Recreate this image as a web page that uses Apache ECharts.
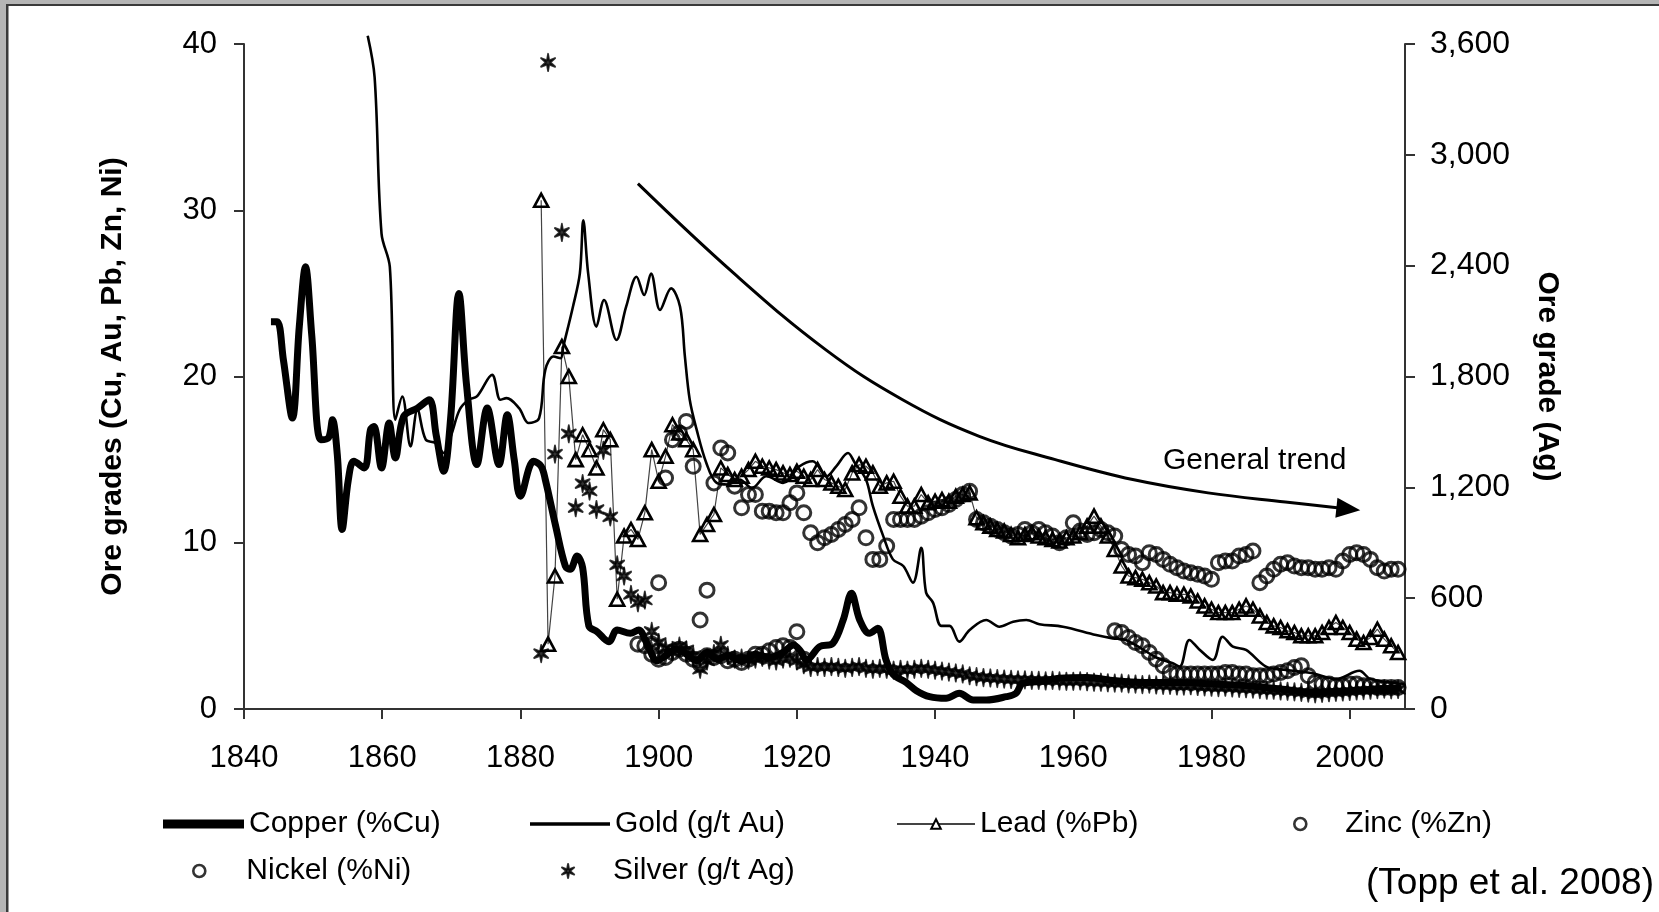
<!DOCTYPE html>
<html>
<head>
<meta charset="utf-8">
<title>Ore grades</title>
<script src="https://cdn.jsdelivr.net/npm/echarts@6/dist/echarts.min.js"></script>
<style>
  html, body { margin: 0; padding: 0; background: #fff; }
  #chart { width: 1659px; height: 912px; }
</style>
</head>
<body>
<div id="chart"></div>
<script>
// values (Topp et al. 2008)
const xTicks = [1840, 1860, 1880, 1900, 1920, 1940, 1960, 1980, 2000];

// copper and gold are traced smooth curves: [year, grade]
const copper = [
  [1843.9, 23.3], [1844.8, 23.3], [1845.7, 21.0], [1847.0, 17.5], [1848.0, 23.0], [1848.9, 26.6],
  [1849.8, 22.5], [1851.1, 16.2], [1852.2, 16.3], [1852.8, 17.4], [1853.5, 15.3], [1854.2, 10.8],
  [1855.1, 13.8], [1855.9, 14.9], [1857.4, 14.5], [1858.3, 16.8], [1858.8, 17.0], [1859.9, 14.5],
  [1861.0, 17.2], [1861.9, 15.1], [1863.1, 17.6], [1865.1, 18.1], [1866.8, 18.6], [1867.8, 16.5],
  [1868.9, 14.3], [1869.9, 17.5], [1871.1, 25.0], [1872.2, 19.5], [1873.7, 14.7], [1875.2, 18.1],
  [1876.9, 14.7], [1878.1, 17.7], [1879.1, 15.0], [1880.0, 12.8], [1881.9, 14.9], [1883.0, 14.6],
  [1883.6, 13.8], [1885.1, 11.0], [1886.5, 8.6], [1887.2, 8.4], [1888.2, 9.2], [1889.0, 8.5],
  [1889.9, 5.0], [1891.1, 4.65], [1892.8, 4.05], [1894.0, 4.75], [1895.9, 4.55], [1897.1, 4.75],
  [1898.3, 3.95], [1899.8, 2.9], [1901.0, 3.2], [1902.5, 3.6], [1904.0, 3.3], [1905.5, 2.9],
  [1907.0, 3.4], [1908.5, 3.0], [1910.0, 3.2], [1912.0, 2.9], [1914.0, 3.3], [1916.0, 3.1],
  [1918.0, 3.4], [1919.5, 3.85], [1920.5, 3.5], [1921.4, 2.95], [1923.3, 3.75], [1925.2, 3.95],
  [1926.7, 5.35], [1927.9, 6.96], [1929.1, 5.35], [1930.5, 4.55], [1931.7, 4.85], [1932.9, 2.95],
  [1933.9, 2.1], [1935.8, 1.6], [1937.3, 1.1], [1939.2, 0.74], [1941.6, 0.64], [1943.5, 0.94],
  [1945.5, 0.54], [1947.4, 0.54], [1950.3, 0.74], [1951.7, 0.94], [1952.7, 1.55], [1955.1, 1.65],
  [1958.0, 1.85], [1962.0, 1.9], [1966.0, 1.7], [1970.0, 1.6], [1975.0, 1.6], [1980.0, 1.5],
  [1985.0, 1.4], [1990.0, 1.2], [1995.0, 1.0], [2000.0, 1.1], [2004.0, 1.2], [2007.5, 1.3]
];

const gold = [
  [1857.9, 40.5], [1858.9, 38.0], [1859.9, 28.6], [1861.1, 26.6], [1861.9, 17.4], [1862.9, 18.8],
  [1864.1, 15.8], [1865.1, 18.0], [1866.3, 16.2], [1867.7, 16.0], [1868.9, 15.4], [1870.0, 16.5],
  [1871.2, 18.0], [1872.5, 18.6], [1873.7, 18.8], [1875.9, 20.1], [1877.1, 18.6], [1878.0, 18.7],
  [1879.8, 18.1], [1881.2, 17.2], [1882.7, 17.5], [1883.6, 20.4], [1884.8, 21.2], [1885.8, 21.1],
  [1886.2, 21.8], [1887.6, 24.2], [1888.6, 26.2], [1889.1, 29.4], [1889.8, 26.2], [1891.0, 23.0],
  [1892.1, 24.6], [1893.9, 22.2], [1895.3, 24.2], [1896.8, 26.0], [1897.9, 24.9], [1898.9, 26.2],
  [1900.2, 24.0], [1901.8, 25.3], [1903.1, 24.2], [1903.8, 21.2], [1904.5, 18.6], [1905.5, 16.8],
  [1906.9, 14.8], [1908.4, 13.6], [1910.0, 13.5], [1911.7, 13.8], [1913.5, 13.3], [1915.6, 14.0],
  [1918.0, 13.6], [1920.4, 14.6], [1922.3, 14.9], [1924.3, 14.0], [1925.7, 14.6], [1927.4, 15.4],
  [1928.4, 14.8], [1930.0, 13.8], [1931.0, 12.2], [1932.5, 10.4], [1933.9, 9.0], [1935.4, 8.6],
  [1936.8, 7.6], [1938.0, 9.7], [1938.7, 7.0], [1939.7, 6.4], [1940.9, 5.0], [1942.1, 5.0],
  [1943.5, 4.05], [1945.0, 4.75], [1947.4, 5.35], [1949.3, 4.95], [1951.3, 5.25], [1953.2, 5.35],
  [1955.1, 5.1], [1958.5, 4.95], [1963.3, 4.45], [1965.7, 4.25], [1967.6, 4.15], [1970.0, 3.6],
  [1972.0, 3.1], [1974.4, 2.75], [1975.4, 2.55], [1976.8, 4.15], [1978.2, 3.6], [1980.2, 2.95],
  [1981.6, 4.35], [1983.1, 3.75], [1985.0, 3.55], [1987.9, 2.55], [1990.8, 2.35], [1994.6, 2.15],
  [1998.0, 1.8], [2001.4, 2.3], [2003.0, 1.8], [2008.0, 1.5]
];

// yearly series, first year given separately
const leadStart = 1883;
const lead = [
  30.6, 3.9, 8.0, 21.8, 20.0, 15.0, 16.5, 15.6, 14.5, 16.8, 16.2, 6.6, 10.4, 10.8, 10.2, 11.8, 15.6,
  13.7, 15.2, 17.1, 16.6, 16.2, 15.6, 10.5, 11.1, 11.7, 14.5, 14.1, 13.8, 14.0, 14.4, 14.9, 14.6,
  14.5, 14.4, 14.2, 14.1, 14.3, 14.0, 13.8, 14.4, 13.8, 13.6, 13.4, 13.2, 14.2, 14.7, 14.6, 14.2,
  13.4, 13.6, 13.7, 12.8, 12.2, 12.2, 12.9, 12.4, 12.5, 12.6, 12.5, 12.8, 12.9, 13.0, 11.5, 11.2,
  11.0, 10.8, 10.7, 10.5, 10.3, 10.5, 10.6, 10.4, 10.3, 10.2, 10.1, 10.3, 10.4, 10.6, 11.0, 11.6,
  11.0, 10.4, 9.6, 8.6, 8.0, 7.9, 7.8, 7.6, 7.4, 7.0, 7.0, 6.9, 6.9, 6.8, 6.5, 6.2, 6.0, 5.8, 5.8,
  5.8, 6.0, 6.2, 6.0, 5.6, 5.2, 5.0, 4.9, 4.7, 4.6, 4.4, 4.4, 4.4, 4.6, 4.9, 5.2, 4.9, 4.6, 4.2,
  4.0, 4.3, 4.8, 4.2, 3.8, 3.4
];

const zincStart = 1899;
const zinc = [
  3.9, 7.6, 13.9, 16.2, 16.6, 17.3, 14.6, 5.35, 7.15, 13.6, 15.7, 15.4, 13.4, 12.1, 12.9, 12.9,
  11.9, 11.9, 11.8, 11.8, 12.4, 13.0, 11.8, 10.6, 10.0, 10.3, 10.5, 10.8, 11.1, 11.4, 12.1, 10.3,
  9.0, 9.0, 9.8, 11.4, 11.4, 11.4, 11.4, 11.6, 11.8, 12.0, 12.1, 12.3, 12.6, 12.9, 13.1, 11.4,
  11.2, 11.0, 10.8, 10.6, 10.4, 10.5, 10.8, 10.6, 10.8, 10.6, 10.4, 10.0, 10.3, 11.2, 10.7, 10.5,
  10.6, 10.8, 10.6, 10.4, 9.6, 9.3, 9.2, 8.8, 9.4, 9.3, 9.0, 8.7, 8.5, 8.3, 8.2, 8.1, 8.0, 7.8,
  8.8, 8.9, 8.9, 9.2, 9.3, 9.5, 7.6, 8.0, 8.4, 8.7, 8.8, 8.6, 8.5, 8.5, 8.4, 8.4, 8.5, 8.4, 8.9,
  9.3, 9.4, 9.3, 9.0, 8.5, 8.3, 8.4, 8.4
];

// nickel has a gap 1922-1965, so keep [year, grade]
const nickel = [
  [1897, 3.9], [1898, 3.8], [1899, 3.3], [1900, 3.0], [1901, 3.1], [1902, 3.4], [1903, 3.6],
  [1904, 3.3], [1905, 3.0], [1906, 2.7], [1907, 3.2], [1908, 3.1], [1909, 3.2], [1910, 2.9],
  [1911, 3.0], [1912, 2.8], [1913, 3.0], [1914, 3.3], [1915, 3.3], [1916, 3.5], [1917, 3.7],
  [1918, 3.8], [1919, 3.7], [1920, 4.65], [1921, 3.0],
  [1966, 4.7], [1967, 4.6], [1968, 4.3], [1969, 4.0], [1970, 3.8], [1971, 3.4], [1972, 3.0],
  [1973, 2.6], [1974, 2.2], [1975, 2.1], [1976, 2.1], [1977, 2.1], [1978, 2.1], [1979, 2.1],
  [1980, 2.1], [1981, 2.1], [1982, 2.2], [1983, 2.2], [1984, 2.1], [1985, 2.1], [1986, 2.0],
  [1987, 2.0], [1988, 2.0], [1989, 2.1], [1990, 2.2], [1991, 2.3], [1992, 2.5], [1993, 2.6],
  [1994, 2.0], [1995, 1.6], [1996, 1.5], [1997, 1.5], [1998, 1.4], [1999, 1.4], [2000, 1.5],
  [2001, 1.5], [2002, 1.4], [2003, 1.4], [2004, 1.3], [2005, 1.3], [2006, 1.3], [2007, 1.3]
];

// silver, g/t, right axis
const silverStart = 1883;
const silver = [
  300, 3500, 1380, 2580, 1490, 1090, 1220, 1180, 1080, 1400, 1040, 780, 720, 620, 575, 590, 420,
  360, 330, 310, 340, 320, 290, 215, 260, 300, 345, 290, 270, 275, 265, 270, 280, 265, 260, 270,
  275, 260, 240, 225, 230, 225, 230, 225, 220, 225, 230, 220, 215, 220, 215, 210, 215, 210, 215,
  220, 215, 210, 205, 200, 195, 190, 180, 175, 170, 168, 165, 162, 160, 158, 158, 155, 155, 152,
  155, 152, 150, 150, 152, 148, 145, 145, 142, 140, 140, 136, 135, 132, 135, 130, 128, 128, 125,
  124, 126, 122, 120, 118, 116, 118, 114, 112, 110, 108, 105, 102, 102, 98, 96, 93, 90, 86, 82,
  85, 88, 90, 92, 95, 98, 100, 102, 105, 108, 104, 106
];

// the "General trend" arrow, in axis units
const trendPoints = [
  [1897.0, 31.6], [1910.9, 26.2], [1924.2, 21.6], [1935.3, 18.6], [1946.4, 16.4],
  [1957.4, 15.0], [1968.6, 13.8], [1979.5, 13.0], [1990.7, 12.45], [1999.8, 12.03]
];

const yearly = (start, vals) => vals.map((v, i) => [start + i, v]);

const FONT = '"Liberation Sans", Arial, sans-serif';
// six-armed asterisk used for silver
const STAR = 'path://M50 0 L57 38 L93.3 25 L64 50 L93.3 75 L57 62 L50 100 L43 62 L6.7 75 L36 50 L6.7 25 L43 38 Z';

const chart = echarts.init(document.getElementById('chart'));

const legendText = { fontSize: 30, fontFamily: FONT, color: '#000' };
function legendItem(name, left, top, w, h, extra) {
  return Object.assign({
    data: [name], left: left, top: top, itemWidth: w, itemHeight: h,
    padding: 0, selectedMode: false, textStyle: legendText
  }, extra || {});
}
const ringIcon = { itemStyle: { color: 'rgba(0,0,0,0)', borderColor: '#000', borderWidth: 2.6 } };

const trendData = trendPoints.map((p, i) => i === trendPoints.length - 1
  ? { value: p, symbol: 'triangle', symbolSize: [20, 24], symbolRotate: -96 }
  : p);

const option = {
  animation: false,
  backgroundColor: '#fff',
  grid: { left: 244, right: 254, top: 44, bottom: 203 },
  xAxis: {
    type: 'value', min: 1840, max: 2008,
    axisLine: { lineStyle: { color: '#333', width: 2 } },
    axisTick: { length: 10, customValues: xTicks, lineStyle: { color: '#333', width: 2 } },
    axisLabel: { customValues: xTicks, margin: 34, fontSize: 31, fontFamily: FONT, color: '#000',
      formatter: v => String(v) },
    splitLine: { show: false }
  },
  yAxis: [
    {
      type: 'value', min: 0, max: 40, interval: 10, position: 'left',
      name: 'Ore grades (Cu, Au, Pb, Zn, Ni)', nameLocation: 'middle', nameGap: 116,
      nameTextStyle: { fontSize: 30, fontWeight: 'bold', fontFamily: FONT, color: '#000' },
      axisLine: { show: true, lineStyle: { color: '#333', width: 2 } },
      axisTick: { show: true, length: 10, lineStyle: { color: '#333', width: 2 } },
      axisLabel: { margin: 27, fontSize: 31, fontFamily: FONT, color: '#000' },
      splitLine: { show: false }
    },
    {
      type: 'value', min: 0, max: 3600, interval: 600, position: 'right',
      name: 'Ore grade (Ag)', nameLocation: 'middle', nameGap: 127, nameRotate: -90,
      nameTextStyle: { fontSize: 30, fontWeight: 'bold', fontFamily: FONT, color: '#000' },
      axisLine: { show: true, lineStyle: { color: '#333', width: 2 } },
      axisTick: { show: true, length: 10, lineStyle: { color: '#333', width: 2 } },
      axisLabel: { margin: 25, fontSize: 32, fontFamily: FONT, color: '#000' },
      splitLine: { show: false }
    }
  ],
  legend: [
    legendItem('Copper (%Cu)', 163, 809, 81, 9, { icon: 'rect', itemStyle: { color: '#000', borderWidth: 0 } }),
    legendItem('Gold (g/t Au)', 530, 809, 80, 3.5, { icon: 'rect', itemStyle: { color: '#000', borderWidth: 0 } }),
    legendItem('Lead (%Pb)', 896, 809, 78, 12, { itemStyle: { color: '#fff' } }),
    legendItem('Zinc (%Zn)', 1293, 809, 80, 12, ringIcon),
    legendItem('Nickel (%Ni)', 192, 856, 84, 12, ringIcon),
    legendItem('Silver (g/t Ag)', 561, 856, 80, 14)
  ],
  series: [
    {
      name: 'Lead (%Pb)', type: 'line', data: yearly(leadStart, lead),
      symbol: 'triangle', symbolSize: [14, 13], showAllSymbol: true,
      lineStyle: { color: '#444', width: 1.2 },
      itemStyle: { color: 'rgba(0,0,0,0)', borderColor: '#000', borderWidth: 2.6 },
      z: 3
    },
    {
      name: 'Zinc (%Zn)', type: 'scatter', data: yearly(zincStart, zinc),
      symbol: 'circle', symbolSize: 14,
      itemStyle: { color: 'rgba(0,0,0,0)', borderColor: '#000', borderWidth: 3 },
      z: 3
    },
    {
      name: 'Nickel (%Ni)', type: 'scatter', data: nickel,
      symbol: 'circle', symbolSize: 14,
      itemStyle: { color: 'rgba(0,0,0,0)', borderColor: '#000', borderWidth: 3 },
      z: 3
    },
    {
      name: 'Silver (g/t Ag)', type: 'scatter', yAxisIndex: 1, data: yearly(silverStart, silver),
      symbol: STAR, symbolSize: [14, 17],
      itemStyle: { color: '#000', borderColor: '#000', borderWidth: 2, borderJoin: 'round' },
      z: 4
    },
    {
      name: 'Gold (g/t Au)', type: 'line', data: gold, smooth: 0.35, showSymbol: false,
      clip: false, color: '#000',
      lineStyle: { color: '#000', width: 2.6 },
      z: 5
    },
    {
      name: 'Copper (%Cu)', type: 'line', data: copper, smooth: 0.35, showSymbol: false,
      color: '#000',
      lineStyle: { color: '#000', width: 7 },
      z: 6
    },
    {
      name: 'trend', type: 'line', data: trendData, smooth: 0.4, symbol: 'none', showSymbol: true,
      silent: true, color: '#000',
      lineStyle: { color: '#000', width: 3 },
      itemStyle: { color: '#000' },
      z: 7
    }
  ],
  graphic: [
    { type: 'rect', shape: { x: 0, y: 0, width: 1659, height: 4 }, style: { fill: '#b5b5b5' }, silent: true },
    { type: 'rect', shape: { x: 0, y: 4, width: 1659, height: 2 }, style: { fill: '#3a3a3a' }, silent: true },
    { type: 'rect', shape: { x: 0, y: 0, width: 6, height: 912 }, style: { fill: '#b5b5b5' }, silent: true },
    { type: 'rect', shape: { x: 6, y: 4, width: 2.5, height: 908 }, style: { fill: '#3a3a3a' }, silent: true },
    {
      type: 'text', x: 1163, y: 461, silent: true,
      style: { text: 'General trend', fill: '#000', font: '30px ' + FONT, textVerticalAlign: 'middle' }
    },
    {
      type: 'text', x: 1654, y: 884, silent: true,
      style: { text: '(Topp et al. 2008)', fill: '#000', font: '37px ' + FONT,
        textAlign: 'right', textVerticalAlign: 'middle' }
    }
  ]
};

chart.setOption(option);
</script>
</body>
</html>
